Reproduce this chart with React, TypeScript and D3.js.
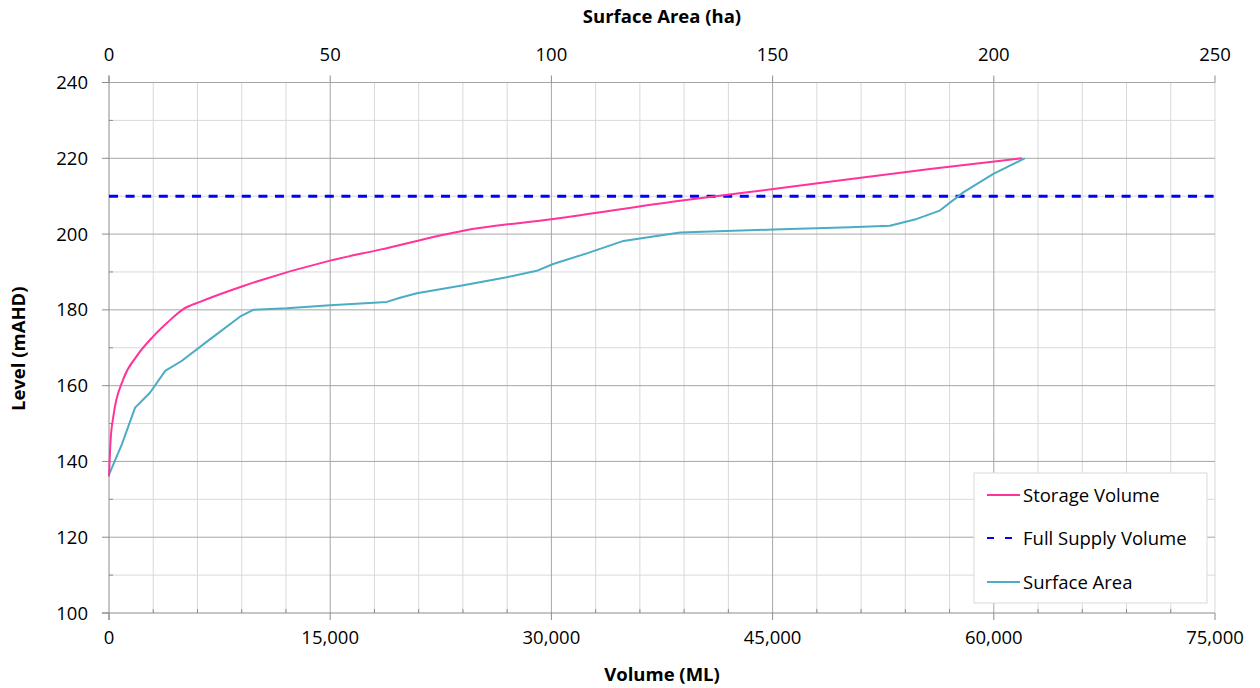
import React from "react";
import * as d3 from "d3";

const storageVolumeML = [0, 100, 300, 970, 1880, 3000, 4000, 5040, 6170, 9110, 14990, 18380, 24020, 30130, 38720, 45050, 55670, 61900];
const storageLevel = [136, 145, 152, 161.7, 167.8, 173, 176.8, 180.2, 182.1, 186.3, 193, 195.9, 200.9, 204, 208.8, 211.9, 217.2, 220];

const surfaceAreaHa = [0, 2.9, 5.9, 9.3, 12.7, 16.4, 22.8, 29.6, 32.6, 40.2, 50, 62.8, 65.8, 69.6, 80.1, 89.9, 96.7, 100.4, 108, 116.3, 121.5, 129.1, 150.2, 167.5, 176.5, 182.6, 187.8, 193.1, 199.9, 207];
const surfaceLevel = [136.5, 144.5, 154.2, 158.2, 163.9, 166.5, 172.2, 178.2, 180, 180.4, 181.2, 182.1, 183.2, 184.4, 186.5, 188.6, 190.3, 192.1, 194.9, 198.2, 199.1, 200.4, 201.2, 201.8, 202.2, 204, 206.2, 211, 215.9, 220];

const fullSupplyLevel = 210;

const volumeTicks = [0, 15000, 30000, 45000, 60000, 75000];
const areaTicks = [0, 50, 100, 150, 200, 250];
const levelTicks = [100, 120, 140, 160, 180, 200, 220, 240];

const legendLabels = ["Storage Volume", "Full Supply Volume", "Surface Area"];

const W = 1260, H = 688;
const M = { left: 109, right: 1215, top: 82.5, bottom: 613 };
const FONT = "'Open Sans', 'Noto Sans', sans-serif";
const FS = 18.5;

export default function App() {
  const x = d3.scaleLinear().domain([0, 75000]).range([M.left, M.right]);
  const xTop = d3.scaleLinear().domain([0, 250]).range([M.left, M.right]);
  const y = d3.scaleLinear().domain([100, 240]).range([M.bottom, M.top]);

  const line = d3.line<[number, number]>().x(d => d[0]).y(d => d[1]);
  const smooth = d3.line<[number, number]>().x(d => d[0]).y(d => d[1]).curve(d3.curveMonotoneX);
  const storagePts = storageVolumeML.map((v, i) => [x(v), y(storageLevel[i])] as [number, number]);
  const surfacePts = surfaceAreaHa.map((v, i) => [xTop(v), y(surfaceLevel[i])] as [number, number]);

  const minorX = d3.range(0, 75001, 3000);
  const minorY = d3.range(100, 241, 10);
  const fmt = d3.format(",");

  const minor = "#d9d9d9";
  const major = "#a6a6a6";
  const axisCol = "#8c8c8c";

  const lx = 974, ly = 473, lw = 233, lh = 130;
  const rows = [495, 538, 582];

  return (
    <svg width={W} height={H} style={{ position: "absolute", left: 0, top: 0, background: "#fff" }} fontFamily={FONT}>
      <rect x={0} y={0} width={W} height={H} fill="#fff" />
      {minorX.filter(v => v % 15000 !== 0).map(v => (
        <line key={"mx" + v} x1={x(v)} x2={x(v)} y1={M.top} y2={M.bottom} stroke={minor} strokeWidth={1} />
      ))}
      {minorY.filter(v => v % 20 !== 0).map(v => (
        <line key={"my" + v} x1={M.left} x2={M.right} y1={y(v)} y2={y(v)} stroke={minor} strokeWidth={1} />
      ))}
      <line x1={M.right} x2={M.right} y1={M.top} y2={M.bottom} stroke={minor} strokeWidth={1} />
      {volumeTicks.filter(v => v > 0 && v < 75000).map(v => (
        <line key={"gx" + v} x1={x(v)} x2={x(v)} y1={M.top} y2={M.bottom} stroke={major} strokeWidth={1} />
      ))}
      {levelTicks.filter(v => v > 100).map(v => (
        <line key={"gy" + v} x1={M.left} x2={M.right} y1={y(v)} y2={y(v)} stroke={major} strokeWidth={1} />
      ))}
      <line x1={M.left} x2={M.left} y1={M.top - 7} y2={M.bottom + 7} stroke={axisCol} strokeWidth={1} />
      <line x1={M.left - 7} x2={M.right} y1={M.bottom} y2={M.bottom} stroke={axisCol} strokeWidth={1} />
      {volumeTicks.map(v => (
        <line key={"bt" + v} x1={x(v)} x2={x(v)} y1={M.bottom} y2={M.bottom + 7} stroke={axisCol} />
      ))}
      {minorX.filter(v => v % 15000 !== 0).map(v => (
        <line key={"btm" + v} x1={x(v)} x2={x(v)} y1={M.bottom - 4} y2={M.bottom} stroke={axisCol} />
      ))}
      {areaTicks.map(v => (
        <line key={"tt" + v} x1={xTop(v)} x2={xTop(v)} y1={M.top - 7} y2={M.top} stroke={axisCol} />
      ))}
      {levelTicks.map(v => (
        <line key={"lt" + v} x1={M.left - 7} x2={M.left} y1={y(v)} y2={y(v)} stroke={axisCol} />
      ))}
      {minorY.filter(v => v % 20 !== 0).map(v => (
        <line key={"ltm" + v} x1={M.left} x2={M.left + 4} y1={y(v)} y2={y(v)} stroke={axisCol} />
      ))}
      {volumeTicks.map(v => (
        <text key={"bl" + v} x={x(v)} y={644} textAnchor="middle" fontSize={FS} fill="#000">{fmt(v)}</text>
      ))}
      {areaTicks.map(v => (
        <text key={"tl" + v} x={xTop(v)} y={61} textAnchor="middle" fontSize={FS} fill="#000">{v}</text>
      ))}
      {levelTicks.map(v => (
        <text key={"ll" + v} x={88} y={y(v) + 6.5} textAnchor="end" fontSize={FS} fill="#000">{v}</text>
      ))}
      <text x={(M.left + M.right) / 2} y={681} textAnchor="middle" fontSize={FS} fontWeight="bold">Volume (ML)</text>
      <text x={(M.left + M.right) / 2} y={23} textAnchor="middle" fontSize={FS} fontWeight="bold">Surface Area (ha)</text>
      <text transform={`translate(25, ${(M.top + M.bottom) / 2 + 1}) rotate(-90)`} textAnchor="middle" fontSize={FS} fontWeight="bold">Level (mAHD)</text>
      <line x1={M.left} x2={M.right} y1={y(fullSupplyLevel)} y2={y(fullSupplyLevel)} stroke="#0000ff" strokeWidth={3} strokeDasharray="9,7.6" />
      <path d={line(surfacePts) || ""} fill="none" stroke="#4bacc6" strokeWidth={2} strokeLinejoin="round" />
      <path d={smooth(storagePts) || ""} fill="none" stroke="#ff3399" strokeWidth={2} strokeLinejoin="round" />
      <rect x={lx} y={ly} width={lw} height={lh} fill="#fff" stroke="#d9d9d9" strokeWidth={1} />
      <line x1={987} x2={1020} y1={rows[0]} y2={rows[0]} stroke="#ff3399" strokeWidth={2} />
      <line x1={987} x2={1020} y1={rows[1]} y2={rows[1]} stroke="#0000ff" strokeWidth={2} strokeDasharray="7,11" />
      <line x1={987} x2={1020} y1={rows[2]} y2={rows[2]} stroke="#4bacc6" strokeWidth={2} />
      {legendLabels.map((t, i) => (
        <text key={t} x={1023} y={rows[i] + 6.5} fontSize={FS} fill="#000">{t}</text>
      ))}
    </svg>
  );
}
